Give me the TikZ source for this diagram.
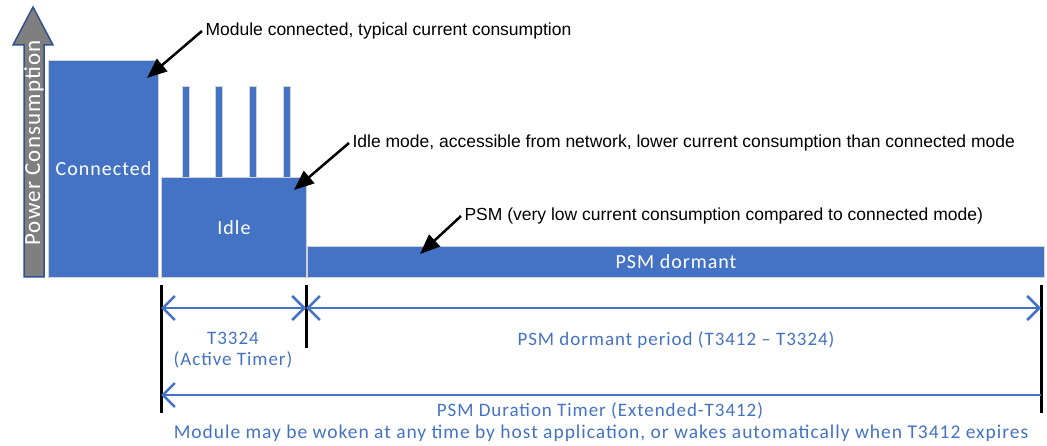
\documentclass[tikz,border=0pt]{standalone}
\usepackage{fontspec}
\setmainfont{Carlito}
\newfontfamily\spacedfont[LetterSpace=5]{Carlito}
\newfontfamily\notefont{Liberation Sans}
\usetikzlibrary{arrows.meta}
\definecolor{psmblue}{HTML}{4472C4}
\definecolor{axisgrey}{HTML}{7F7F7F}
\definecolor{axisedge}{HTML}{2F528F}
\tikzstyle{bar}=[
        fill=psmblue,
        draw=gray!35,
        line width=1pt,
        inner sep=0pt,
        anchor=north west,
        text=white,
        font=\spacedfont\fontsize{20}{24}\selectfont
]
\tikzstyle{note}=[
        anchor=west,
        font=\notefont\fontsize{17.5}{20}\selectfont
]
\tikzstyle{callout}=[
        line width=2.5pt,
        -{Triangle[length=20pt,width=16pt]}
]
\tikzstyle{marker}=[
        line width=3pt
]
\tikzstyle{timer}=[
        draw=psmblue,
        line width=2.5pt
]
\tikzstyle{label}=[
        text=psmblue,
        font=\spacedfont\fontsize{19}{22}\selectfont
]

\begin{document}
\begin{tikzpicture}[x=1pt,y=-1pt]
                        \useasboundingbox (0,0) rectangle (1047,446);

                        % power axis
                        \draw[fill=axisgrey, draw=axisedge, line width=1.5pt]
                            (24,277) -- (24,45) -- (13,45) -- (33,7) -- (53,45) -- (44,45) -- (44,277) -- cycle;
                        \node[rotate=90, text=white, font=\spacedfont\fontsize{23}{25}\selectfont] (power) at (34,143) {Power Consumption};

                        % levels
                        \node[bar, minimum width=110pt, minimum height=217pt] (conn) at (48,60) {Connected};
                        \node[bar, minimum width=145pt, minimum height=100pt] (idle) at (161,177) {Idle};
                        \node[bar, minimum width=737pt, minimum height=31pt] (dorm) at (307,246) {PSM dormant};
                        \foreach \x [count=\i] in {182,215,249,283} {
                            \node[bar, minimum width=7pt, minimum height=91pt] (spike\i) at (\x,86) {};
                        }

                        % callouts
                        \node[note] (cnote) at (202,31) {Module connected, typical current consumption};
                        \node[note] (inote) at (349,143) {Idle mode, accessible from network, lower current consumption than connected mode};
                        \node[note] (pnote) at (461,216) {PSM (very low current consumption compared to connected mode)};
                        \coordinate (cpt) at (147,78);
                        \coordinate (ipt) at (294,190);
                        \coordinate (ppt) at (420,254);
                        \draw[callout] (cnote.west) -- (cpt);
                        \draw[callout] (inote.west) -- (ipt);
                        \draw[callout] (pnote.west) -- (ppt);

                        % timer markers
                        \coordinate (m0a) at (161,285);
                        \coordinate (m0b) at (161,413);
                        \coordinate (m1a) at (306,285);
                        \coordinate (m1b) at (306,348);
                        \coordinate (m2a) at (1041,285);
                        \coordinate (m2b) at (1041,413);
                        \draw[marker] (m0a) -- (m0b);
                        \draw[marker] (m1a) -- (m1b);
                        \draw[marker] (m2a) -- (m2b);

                        \coordinate (a0) at (161,308);
                        \coordinate (a1) at (306,308);
                        \coordinate (a2) at (1041,308);
                        \coordinate (b0) at (161,395);
                        \coordinate (b2) at (1041,395);
                        \draw[timer, {Straight Barb[length=12pt,width=24pt]}-{Straight Barb[length=12pt,width=24pt]}] (a0) -- (a1);
                        \draw[timer, {Straight Barb[length=12pt,width=24pt]}-{Straight Barb[length=12pt,width=24pt]}] (a1) -- (a2);
                        \draw[timer, {Straight Barb[length=12pt,width=24pt]}-] (b0) -- (b2);

                        % timer labels
                        \node[label] (active) at (233,338) {T3324};
                        \node[label] (activesub) at (233,360) {(Active Timer)};
                        \node[label] (period) at (676,340) {PSM dormant period (T3412 – T3324)};
                        \node[label] (duration) at (600,411) {PSM Duration Timer (Extended-T3412)};
                        \node[label, font=\spacedfont\fontsize{19.5}{22}\selectfont] (wake) at (601,433) {Module may be woken at any time by host application, or wakes automatically when T3412 expires};
                    \end{tikzpicture}
\end{document}
